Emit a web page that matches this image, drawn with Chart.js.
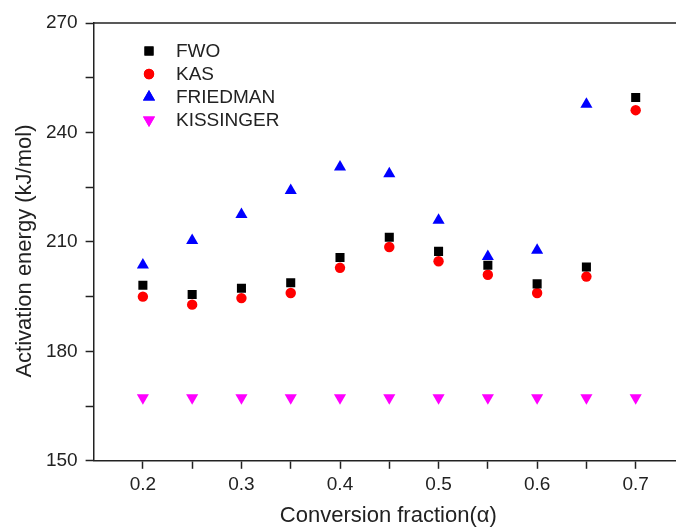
<!DOCTYPE html>
<html>
<head>
<meta charset="utf-8">
<script src="https://cdn.jsdelivr.net/npm/chart.js@4"></script>
<style>
  html, body { margin: 0; padding: 0; background: #fff; overflow: hidden; }
  #wrap { width: 676px; height: 529px; overflow: hidden; }
</style>
</head>
<body>
<div id="wrap"><canvas id="eaChart" width="690" height="529"></canvas></div>
<script>
// conversion fraction values
const alpha = [0.2, 0.25, 0.3, 0.35, 0.4, 0.45, 0.5, 0.55, 0.6, 0.65, 0.7];

// activation energy (kJ/mol) per method
const fwo       = [198.1, 195.6, 197.3, 198.8, 205.7, 211.3, 207.4, 203.6, 198.5, 203.1, 249.6];
const kas       = [195.0, 192.8, 194.6, 196.0, 202.9, 208.6, 204.7, 201.0, 196.0, 200.5, 246.1];
const friedman  = [203.7, 210.4, 217.5, 224.1, 230.5, 228.7, 215.9, 206.0, 207.7, 247.7, null];
const kissinger = [167.3, 167.3, 167.3, 167.3, 167.3, 167.3, 167.3, 167.3, 167.3, 167.3, 167.3];

// ticks
const xTicks = [0.2, 0.25, 0.3, 0.35, 0.4, 0.45, 0.5, 0.55, 0.6, 0.65, 0.7];
const xTickLabels = ["0.2", "", "0.3", "", "0.4", "", "0.5", "", "0.6", "", "0.7"];
const yTicks = [150, 165, 180, 195, 210, 225, 240, 255, 270];
const yTickLabels = ["150", "", "180", "", "210", "", "240", "", "270"];

const seriesNames = ["FWO", "KAS", "FRIEDMAN", "KISSINGER"];

function toPoints(vals) {
    return alpha.map((a, i) => ({ x: a, y: vals[i] })).filter(p => p.y !== null);
}

const FONT = "'Liberation Sans', Arial, sans-serif";
const AXIS_COLOR = "#222";

// frame line on top + legend inside the plot
const framePlugin = {
    id: "frame",
    afterDraw(chart) {
        const { ctx, chartArea } = chart;
        ctx.save();
        ctx.strokeStyle = AXIS_COLOR;
        ctx.lineWidth = 1.5;
        ctx.beginPath();
        ctx.moveTo(chartArea.left, chartArea.top);
        ctx.lineTo(chartArea.right + 2, chartArea.top);
        ctx.stroke();

        // legend
        const lx = 149, ly = 51, gap = 23;
        ctx.font = "19px " + FONT;
        ctx.textBaseline = "middle";
        chart.data.datasets.forEach((ds, i) => {
            const y = ly + i * gap;
            ctx.fillStyle = ds.backgroundColor;
            Chart.helpers.drawPoint(ctx, {
                pointStyle: ds.pointStyle,
                radius: ds.pointRadius,
                rotation: ds.rotation || 0,
                borderWidth: 0
            }, lx, y);
            ctx.fill();
            ctx.fillStyle = "#222";
            ctx.fillText(ds.label, 176, y + 1);
        });
        ctx.restore();
    }
};

new Chart(document.getElementById("eaChart"), {
    type: "scatter",
    data: {
        datasets: [
            { label: seriesNames[0], data: toPoints(fwo), pointStyle: "rect", pointRadius: 6.4, backgroundColor: "#000000", borderWidth: 0 },
            { label: seriesNames[1], data: toPoints(kas), pointStyle: "circle", pointRadius: 5.2, backgroundColor: "#ff0000", borderWidth: 0 },
            { label: seriesNames[2], data: toPoints(friedman), pointStyle: "triangle", pointRadius: 7, backgroundColor: "#0000ff", borderWidth: 0 },
            { label: seriesNames[3], data: toPoints(kissinger), pointStyle: "triangle", rotation: 180, pointRadius: 7, backgroundColor: "#ff00ff", borderWidth: 0 }
        ]
    },
    options: {
        responsive: false,
        animation: false,
        layout: { padding: { left: 11.5, right: 0, top: 23, bottom: 0 } },
        elements: { point: { hoverRadius: 7 } },
        plugins: {
            legend: { display: false },
            tooltip: { enabled: false }
        },
        scales: {
            x: {
                type: "linear",
                min: 0.15,
                max: 0.748,
                afterBuildTicks: axis => { axis.ticks = xTicks.map(v => ({ value: v })); },
                ticks: {
                    autoSkip: false,
                    maxRotation: 0,
                    padding: 5,
                    color: "#222",
                    font: { family: FONT, size: 19 },
                    callback: (v, i) => xTickLabels[i]
                },
                grid: { drawOnChartArea: false, drawTicks: true, tickLength: 8, tickColor: AXIS_COLOR, tickWidth: 1.5 },
                border: { color: AXIS_COLOR, width: 1.5 },
                title: {
                    display: true,
                    text: "Conversion fraction(α)",
                    color: "#222",
                    font: { family: FONT, size: 22 },
                    padding: { top: 1, bottom: 0 }
                }
            },
            y: {
                min: 150,
                max: 270,
                afterBuildTicks: axis => { axis.ticks = yTicks.map(v => ({ value: v })); },
                ticks: {
                    autoSkip: false,
                    padding: 8,
                    color: "#222",
                    font: { family: FONT, size: 19 },
                    callback: (v, i) => yTickLabels[i]
                },
                grid: { drawOnChartArea: false, drawTicks: true, tickLength: 8, tickColor: AXIS_COLOR, tickWidth: 1.5 },
                border: { color: AXIS_COLOR, width: 1.5 },
                title: {
                    display: true,
                    // trailing spaces nudge the rotated title a little lower, as in the original
                    text: "Activation energy (kJ/mol)   ",
                    color: "#222",
                    font: { family: FONT, size: 22 },
                    padding: { top: 0, bottom: 0 }
                }
            }
        }
    },
    plugins: [framePlugin]
});
</script>
</body>
</html>
